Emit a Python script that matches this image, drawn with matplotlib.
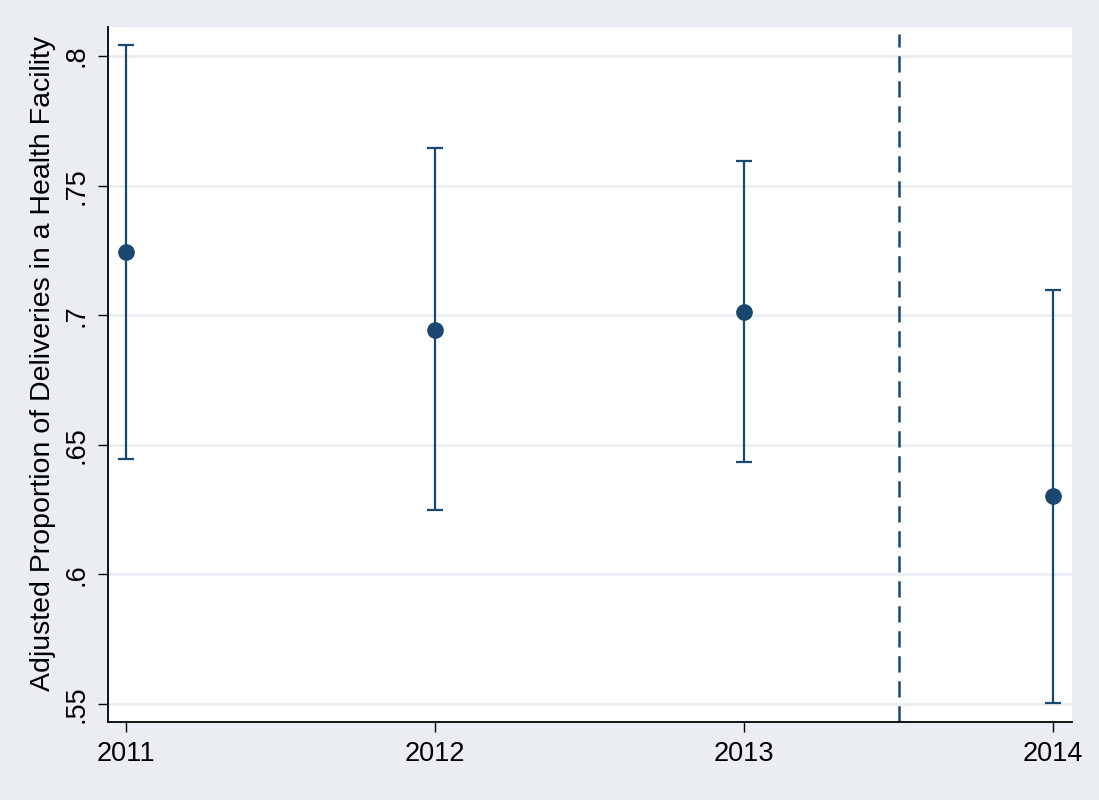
import matplotlib.pyplot as plt

years = [2011, 2012, 2013, 2014]
estimate = [0.7244, 0.6944, 0.7014, 0.6302]
ci_low = [0.6445, 0.6248, 0.6433, 0.5506]
ci_high = [0.8042, 0.7645, 0.7595, 0.7097]
yticks = [0.55, 0.6, 0.65, 0.7, 0.75, 0.8]
ytick_labels = ['.55', '.6', '.65', '.7', '.75', '.8']
cutoff = 2013.5

navy = '#1a476f'
bg = '#eaeef2'

plt.rcParams['font.family'] = ['Liberation Sans', 'DejaVu Sans']

fig = plt.figure(figsize=(10.99, 8), dpi=100, facecolor=bg)
ax = fig.add_axes([108 / 1099, 78 / 800, 964 / 1099, 695 / 800])
ax.set_facecolor('white')

for t in yticks:
    ax.axhline(t, color='#eaeef2', lw=2, zorder=0)

err_low = [e - l for e, l in zip(estimate, ci_low)]
err_high = [h - e for e, h in zip(estimate, ci_high)]
ax.errorbar(years, estimate, yerr=[err_low, err_high], fmt='o', color=navy,
            ms=11, elinewidth=1.6, capsize=5.5, capthick=1.6, zorder=3)

# vertical reference line
ax.axvline(cutoff, ymax=0.99, color=navy, lw=1.8, dashes=(6.5, 3.5), zorder=2)

ax.set_xlim(2010.942, 2014.061)
ax.set_ylim(0.5431, 0.8112)
ax.set_xticks(years)
ax.set_yticks(yticks)
ax.set_yticklabels(ytick_labels, rotation=90, va='center')
ax.tick_params(axis='both', labelsize=19.5, length=7.5, width=1, direction='out', pad=6)
ax.set_ylabel('Adjusted Proportion of Deliveries in a Health Facility', fontsize=20.5, labelpad=5)
ax.yaxis.label.set_y(0.5165)

for s in ['top', 'right']:
    ax.spines[s].set_visible(False)
for s in ['left', 'bottom']:
    ax.spines[s].set_linewidth(1.3)

fig.savefig('out.png', dpi=100, facecolor=bg)
